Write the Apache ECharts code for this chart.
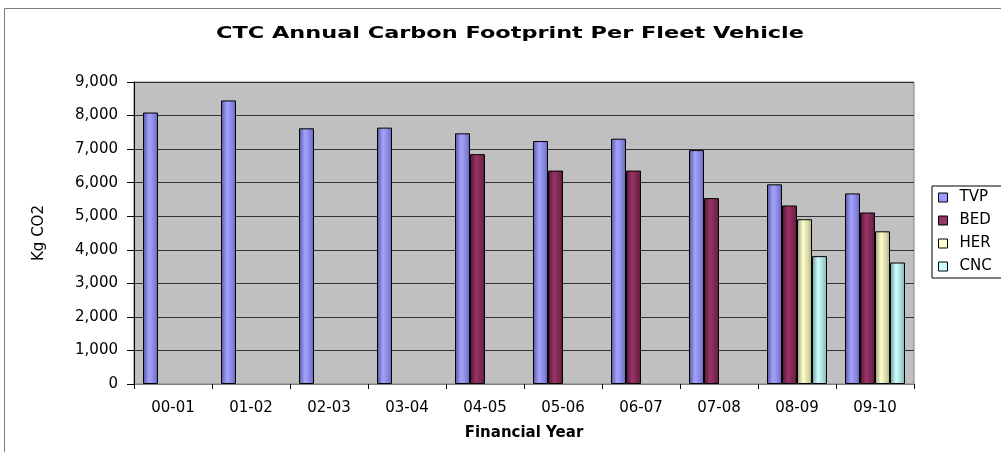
<!DOCTYPE html>
<html>
<head>
<meta charset="utf-8">
<script src="https://cdn.jsdelivr.net/npm/echarts@6/dist/echarts.min.js"></script>
<style>html,body{margin:0;padding:0;background:#fff;}#c{width:1001px;height:452px;}</style>
</head>
<body>
<div id="c"></div>
<script>
var categories = ['00-01','01-02','02-03','03-04','04-05','05-06','06-07','07-08','08-09','09-10'];
var tvp = [8090, 8450, 7620, 7640, 7470, 7240, 7310, 6970, 5950, 5680];
var bed = [null, null, null, null, 6850, 6360, 6360, 5540, 5320, 5110];
var her = [null, null, null, null, null, null, null, null, 4910, 4550];
var cnc = [null, null, null, null, null, null, null, null, 3810, 3620];
var seriesNames = ['TVP', 'BED', 'HER', 'CNC'];
var titleText = 'CTC Annual Carbon Footprint Per Fleet Vehicle';
var yTicks = {min: 0, max: 9000, interval: 1000};

function grad(c0, c1, c2, c3) {
  return new echarts.graphic.LinearGradient(0, 0, 1, 0, [
    {offset: 0, color: c0}, {offset: 0.4, color: c1}, {offset: 0.75, color: c2}, {offset: 1, color: c3}
  ]);
}
var fills = [
  grad('#55559a', '#a4a4ff', '#8585e0', '#6262b2'),
  grad('#4e1530', '#9a3466', '#7a2650', '#5e1a3c'),
  grad('#98987a', '#ffffcc', '#d6d6a6', '#aeae88'),
  grad('#6a9898', '#ccffff', '#a8d6d6', '#84aeae')
];
var legendColors = ['#9999ff', '#993366', '#ffffcc', '#ccffff'];
var dataSets = [tvp, bed, her, cnc];

var font = 'DejaVu Sans';
var chart = echarts.init(document.getElementById('c'), null, {renderer: 'canvas'});
var series = seriesNames.map(function (n, i) {
  return {
    name: n, type: 'bar', data: dataSets[i], barWidth: 15, barGap: '0%',
    itemStyle: {color: fills[i], borderColor: '#000', borderWidth: 1},
    emphasis: {disabled: true}
  };
});
chart.setOption({
  animation: false,
  color: legendColors,
  graphic: [{
    type: 'rect', shape: {x: 4.5, y: 8.5, width: 1010, height: 460},
    style: {fill: 'none', stroke: '#7a7a7a', lineWidth: 1}, silent: true, z: -10
  }, {
    type: 'text', x: 510, y: 34, scaleX: 1.4, originX: 0, originY: 0,
    style: {text: titleText, font: 'bold 16px "DejaVu Sans"', fill: '#000',
      align: 'center', verticalAlign: 'middle'},
    silent: true
  }],
  legend: {
    orient: 'vertical', left: 932, top: 186,
    data: seriesNames.map(function (n, i) {
      return {name: n, icon: 'rect', itemStyle: {color: legendColors[i], borderColor: '#000', borderWidth: 1}};
    }),
    itemWidth: 9, itemHeight: 9, itemGap: 8,
    padding: [4, 60, 4, 6],
    borderColor: '#000', borderWidth: 1,
    textStyle: {fontFamily: font, fontSize: 15, color: '#000', padding: [0, 0, 0, 7]}
  },
  grid: {
    left: 134, right: 87, top: 82, bottom: 68,
    show: true, backgroundColor: '#c0c0c0', borderColor: '#808080', borderWidth: 1
  },
  xAxis: {
    type: 'category', data: categories,
    name: 'Financial Year', nameLocation: 'middle', nameGap: 42,
    nameTextStyle: {fontFamily: font, fontWeight: 'bold', fontSize: 15, color: '#000'},
    axisLine: {lineStyle: {color: '#808080', width: 1}},
    axisTick: {show: true, length: 5, lineStyle: {color: '#000'}},
    axisLabel: {fontFamily: font, fontSize: 15, color: '#000', margin: 17},
    splitLine: {show: false}
  },
  yAxis: {
    type: 'value', min: yTicks.min, max: yTicks.max, interval: yTicks.interval,
    name: 'Kg CO2', nameLocation: 'middle', nameGap: 87, nameRotate: 90,
    nameTextStyle: {fontFamily: font, fontSize: 15, color: '#000'},
    axisLine: {show: true, lineStyle: {color: '#000', width: 1}},
    axisTick: {show: true, length: 7, lineStyle: {color: '#000'}},
    axisLabel: {fontFamily: font, fontSize: 15, color: '#000', margin: 16,
      formatter: function (v) { return v.toLocaleString('en-US'); }},
    splitLine: {show: true, lineStyle: {color: '#333', width: 1}}
  },
  series: series
});
</script>
</body>
</html>
